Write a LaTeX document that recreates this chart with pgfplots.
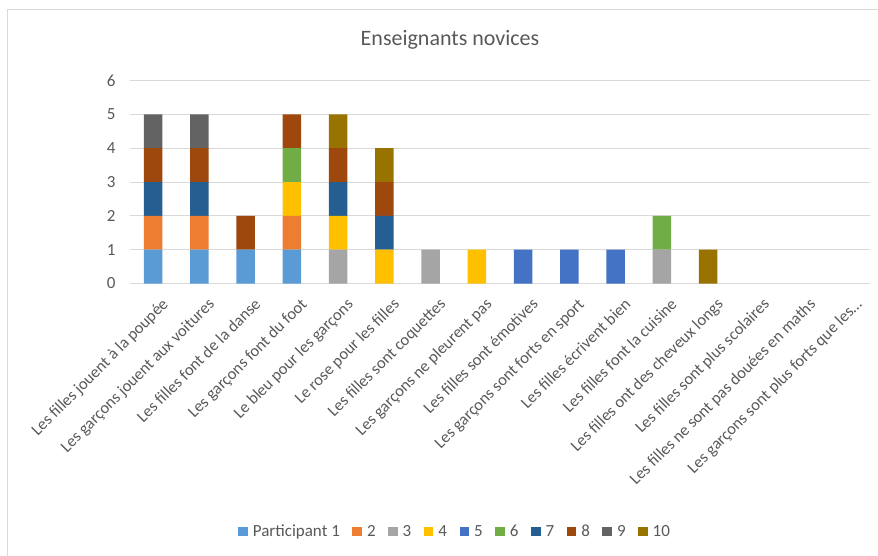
\documentclass[border=0pt]{standalone}
\usepackage{fontspec}
\setmainfont{Carlito}
\usepackage{pgfplots}
\usepackage{pgfplotstable}
\pgfplotsset{compat=1.18}

\definecolor{c1}{HTML}{5B9BD5}
\definecolor{c2}{HTML}{ED7D31}
\definecolor{c3}{HTML}{A5A5A5}
\definecolor{c4}{HTML}{FFC000}
\definecolor{c5}{HTML}{4472C4}
\definecolor{c6}{HTML}{70AD47}
\definecolor{c7}{HTML}{255E91}
\definecolor{c8}{HTML}{9E480E}
\definecolor{c9}{HTML}{636363}
\definecolor{c10}{HTML}{997300}
\definecolor{txt}{HTML}{595959}
\definecolor{gridc}{HTML}{D9D9D9}

% one row per category, one column per participant
\pgfplotstableread{
x p1 p2 p3 p4 p5 p6 p7 p8 p9 p10
0  1 1 0 0 0 0 1 1 1 0
1  1 1 0 0 0 0 1 1 1 0
2  1 0 0 0 0 0 0 1 0 0
3  1 1 0 1 0 1 0 1 0 0
4  0 0 1 1 0 0 1 1 0 1
5  0 0 0 1 0 0 1 1 0 1
6  0 0 1 0 0 0 0 0 0 0
7  0 0 0 1 0 0 0 0 0 0
8  0 0 0 0 1 0 0 0 0 0
9  0 0 0 0 1 0 0 0 0 0
10 0 0 0 0 1 0 0 0 0 0
11 0 0 1 0 0 1 0 0 0 0
12 0 0 0 0 0 0 0 0 0 1
13 0 0 0 0 0 0 0 0 0 0
14 0 0 0 0 0 0 0 0 0 0
15 0 0 0 0 0 0 0 0 0 0
}\novices

\pgfplotsset{
  sq/.style={fill=#1, draw=none,
    legend image code/.code={\fill[##1] (0bp,-4.8bp) rectangle (9.6bp,4.8bp);}},
}

\begin{document}
\begin{tikzpicture}
\path[use as bounding box] (-130bp,-272.5bp) rectangle (748bp,283.5bp);
\draw[gridc, line width=1bp] (-122bp,-300bp) -- (-122bp,273.5bp) -- (800bp,273.5bp);
\begin{axis}[
  at={(0,0)}, anchor=south west,
  scale only axis,
  width=740bp, height=203bp,
  ybar stacked,
  bar width=18.3bp,
  xmin=-0.5, xmax=15.5,
  ymin=0, ymax=6,
  xtick={0,...,15},
  ytick={0,...,6},
  xticklabels={
    Les filles jouent à la poupée,
    Les garçons jouent aux voitures,
    Les filles font de la danse,
    Les garçons font du foot,
    Le bleu pour les garçons,
    Le rose pour les filles,
    Les filles sont coquettes,
    Les garçons ne pleurent pas,
    Les filles sont émotives,
    Les garçons sont forts en sport,
    Les filles écrivent bien,
    Les filles font la cuisine,
    Les filles ont des cheveux longs,
    Les filles sont plus scolaires,
    Les filles ne sont pas douées en maths,
    Les garçons sont plus forts que les…},
  x tick label style={rotate=45, anchor=north east, font=\fontsize{16.5bp}{18bp}\selectfont, text=txt, xshift=-4bp, yshift=-15bp, inner sep=0pt},
  y tick label style={font=\fontsize{17bp}{18bp}\selectfont, text=txt, xshift=-11bp},
  /pgf/number format/assume math mode=true,
  ymajorgrids,
  grid style={gridc, line width=1bp},
  axis line style={draw=none},
  tick style={draw=none},
  legend columns=-1,
  legend style={at={(0.438,-1.222)}, anchor=center, draw=none,
    font=\fontsize{17bp}{18bp}\selectfont, text=txt,
    nodes={inner sep=0pt},
    /tikz/every odd column/.append style={column sep=5bp},
    /tikz/every even column/.append style={column sep=12.5bp}},
  legend cell align=left,
]
\addplot[sq=c1] table[x=x, y=p1] {\novices};
\addplot[sq=c2] table[x=x, y=p2] {\novices};
\addplot[sq=c3] table[x=x, y=p3] {\novices};
\addplot[sq=c4] table[x=x, y=p4] {\novices};
\addplot[sq=c5] table[x=x, y=p5] {\novices};
\addplot[sq=c6] table[x=x, y=p6] {\novices};
\addplot[sq=c7] table[x=x, y=p7] {\novices};
\addplot[sq=c8] table[x=x, y=p8] {\novices};
\addplot[sq=c9] table[x=x, y=p9] {\novices};
\addplot[sq=c10] table[x=x, y=p10] {\novices};
\legend{Participant 1, 2, 3, 4, 5, 6, 7, 8, 9, 10}
\end{axis}
\node[text=txt, font=\fontsize{22bp}{24bp}\selectfont] at (320bp,243.5bp) {Enseignants novices};
\end{tikzpicture}
\end{document}
